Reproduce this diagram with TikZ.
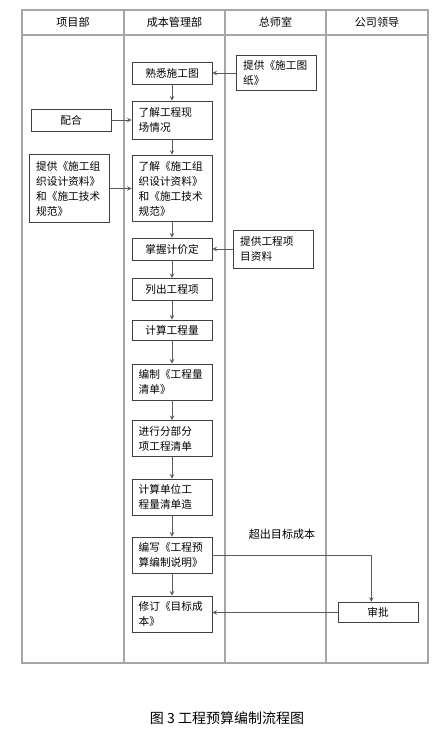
\documentclass[tikz,border=0pt]{standalone}
\usepackage{fontspec}
\setmainfont{Noto Sans CJK SC}
\definecolor{framegray}{HTML}{A6A6A6}
\definecolor{boxgray}{HTML}{404040}
\definecolor{linegray}{HTML}{5A5A5A}

\begin{document}
\begin{tikzpicture}[x=0.75pt, y=-0.75pt,
	box/.style={draw=boxgray, line width=0.7pt, fill=white, text width=50pt, inner xsep=5pt, inner ysep=1pt, align=left, font=\fontsize{8}{11.25}\selectfont},
	onebox/.style={box, align=center, minimum height=16.5pt},
	twobox/.style={box, minimum height=27pt},
	flow/.style={draw=linegray, line width=0.5pt, -stealth},
	head/.style={font=\fontsize{8.3}{10}\selectfont}]
\useasboundingbox (0,0) rectangle (446,734);

% swimlanes
\draw[framegray, line width=0.9pt] (22,10) rectangle (428,663);
\draw[framegray, line width=0.9pt] (22,35) -- (428,35);
\foreach \x in {124,225,326}
	\draw[framegray, line width=0.9pt] (\x,10) -- (\x,663);
\node[head] (h1) at (73,22) {项目部};
\node[head] (h2) at (174.5,22) {成本管理部};
\node[head] (h3) at (275.5,22) {总师室};
\node[head] (h4) at (377,22) {公司领导};

% cost management column
\node[onebox] (shuxi) at (172,73) {熟悉施工图};
\node[twobox, minimum height=28.5pt] (xianchang) at (172,120) {了解工程现\\场情况};
\node[box, minimum height=50pt] (liaojie) at (172,188.5) {了解《施工组\\织设计资料》\\和《施工技术\\规范》};
\node[onebox] (jijia) at (172,249) {掌握计价定};
\node[onebox] (liechu) at (172,289.5) {列出工程项};
\node[onebox, minimum height=15pt] (gongcheng) at (172,330) {计算工程量};
\node[twobox] (qingdan) at (172,382) {编制《工程量\\清单》};
\node[twobox] (fenbu) at (172,438.5) {进行分部分\\项工程清单};
\node[twobox] (danwei) at (172,497) {计算单位工\\程量清单造};
\node[twobox] (shuoming) at (172,555) {编写《工程预\\算编制说明》};
\node[twobox] (xiuding) at (172,614) {修订《目标成\\本》};

% other columns
\node[box, minimum height=51.5pt] (tigong) at (69.5,188.5) {提供《施工组\\织设计资料》\\和《施工技术\\规范》};
\node[onebox] (peihe) at (71,120) {配合};
\node[twobox, minimum height=26pt] (tuzhi) at (276.5,73) {提供《施工图\\纸》};
\node[twobox, minimum height=28.5pt] (ziliao) at (273.5,249) {提供工程项\\目资料};
\node[onebox, minimum height=15.5pt] (shenpi) at (378,612.5) {审批};
\node[head] (chaochu) at (282,534) {超出目标成本};

% connectors
\foreach \a/\b in {shuxi/xianchang, xianchang/liaojie, liaojie/jijia, jijia/liechu, liechu/gongcheng, gongcheng/qingdan, qingdan/fenbu, fenbu/danwei, danwei/shuoming, shuoming/xiuding}
	\draw[flow] (\a) -- (\b);
\draw[flow] (tuzhi) -- (shuxi);
\draw[flow] (peihe) -- (xianchang);
\draw[flow] (tigong) -- (liaojie);
\draw[flow] (ziliao) -- (jijia);
\draw[flow] (shuoming.east) -| ([xshift=-5pt]shenpi.north);
\draw[flow] (shenpi.west) -- (xiuding.east |- shenpi.west);

\node[font=\fontsize{10.5}{12}\selectfont] (caption) at (227,718) {图 3 工程预算编制流程图};
\end{tikzpicture}
\end{document}
